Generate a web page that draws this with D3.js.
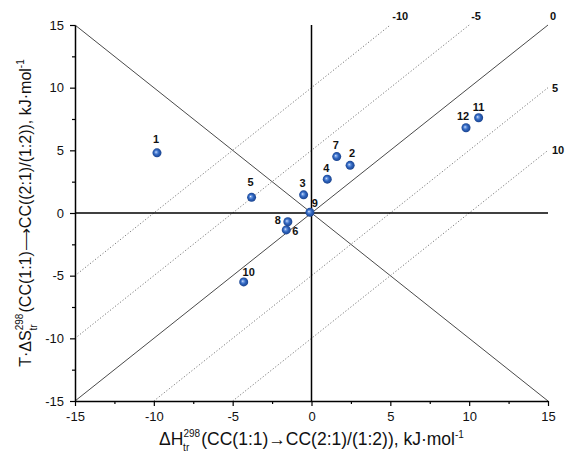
<!DOCTYPE html>
<html>
<head>
<meta charset="utf-8">
<script src="https://cdn.jsdelivr.net/npm/d3@7/dist/d3.min.js"></script>
<style>
  html, body { margin: 0; padding: 0; background: #fff; }
  svg { display: block; font-family: "Liberation Sans", Arial, sans-serif; }
</style>
</head>
<body>
<svg id="chart" width="566" height="462"></svg>
<script>
// Compound numbers and their transition enthalpy / entropy terms (kJ/mol)
const compounds = ["1", "2", "3", "4", "5", "6", "7", "8", "9", "10", "11", "12"];
const deltaH    = [-9.8, 2.45, -0.5, 1.0, -3.8, -1.6, 1.6, -1.5, -0.1, -4.3, 10.6, 9.8];
const tDeltaS   = [4.8, 3.8, 1.45, 2.7, 1.25, -1.35, 4.5, -0.7, 0.05, -5.5, 7.6, 6.8];

// Iso-ΔG reference lines: TΔS = ΔH − ΔG
const isoG = [-10, -5, 0, 5, 10];

// Axis ticks
const majorTicks = [-15, -10, -5, 0, 5, 10, 15];
const minorTicks = [-12.5, -7.5, -2.5, 2.5, 7.5, 12.5];

// Label placement relative to each marker (layout only)
const labelOffset = [[-1, -10], [2, -8], [-1, -8], [-1, -7], [-1, -11], [9, 5],
                     [-1, -8], [-10, 2], [5, -5], [5, -6], [0, -7], [-3, -8]];

const svg = d3.select("#chart");
const x = d3.scaleLinear().domain([-15, 15]).range([75, 548]);
const y = d3.scaleLinear().domain([-15, 15]).range([401, 25]);

// Sphere-like marker shading
const defs = svg.append("defs");
const grad = defs.append("radialGradient").attr("id", "ball")
  .attr("cx", "50%").attr("cy", "50%").attr("r", "55%")
  .attr("fx", "38%").attr("fy", "40%");
grad.append("stop").attr("offset", "0%").attr("stop-color", "#f2f6ff");
grad.append("stop").attr("offset", "18%").attr("stop-color", "#7aa3e6");
grad.append("stop").attr("offset", "50%").attr("stop-color", "#2f65bf");
grad.append("stop").attr("offset", "100%").attr("stop-color", "#173d85");

// Diagonal y = -x
svg.append("line")
  .attr("x1", x(-15)).attr("y1", y(15)).attr("x2", x(15)).attr("y2", y(-15))
  .attr("stroke", "#4a4a4a").attr("stroke-width", 1);

// Iso-ΔG lines
isoG.forEach(g => {
  const x0 = g < 0 ? -15 : -15 + g, y0 = x0 - g;
  const x1 = g < 0 ? 15 + g : 15, y1 = x1 - g;
  svg.append("line")
    .attr("x1", x(x0)).attr("y1", y(y0)).attr("x2", x(x1)).attr("y2", y(y1))
    .attr("stroke", g === 0 ? "#4a4a4a" : "#7a7a7a")
    .attr("stroke-width", 1)
    .attr("stroke-dasharray", g === 0 ? null : "1.2,2");
  const atTop = y1 >= 15;
  svg.append("text")
    .attr("x", x(x1) + (atTop ? 2 : 4))
    .attr("y", y(y1) + (atTop ? -5 : 4))
    .attr("font-size", 11).attr("font-weight", "bold").attr("fill", "#111")
    .text(g);
});

// Zero axes
svg.append("line").attr("x1", x(-15)).attr("x2", x(15)).attr("y1", y(0)).attr("y2", y(0))
  .attr("stroke", "#000").attr("stroke-width", 1.5);
svg.append("line").attr("x1", x(0)).attr("x2", x(0)).attr("y1", y(-15)).attr("y2", y(15))
  .attr("stroke", "#000").attr("stroke-width", 1.5);

// Axes with major and minor ticks
function styleAxis(g) {
  g.select(".domain").attr("stroke", "#000").attr("stroke-width", 1.5);
  g.selectAll(".tick line").attr("stroke", "#000").attr("stroke-width", 1.2);
  g.selectAll(".tick text").attr("font-size", 13).attr("fill", "#111")
    .attr("font-family", "Liberation Sans, Arial, sans-serif");
}
const fmt = d => d3.format("d")(d).replace("−", "-");

svg.append("g").attr("transform", `translate(0,${y(-15)})`)
  .call(d3.axisBottom(x).tickValues(minorTicks).tickSize(3).tickFormat(""))
  .call(g => { g.select(".domain").remove(); g.selectAll("line").attr("stroke", "#000").attr("stroke-width", 1.2); });
svg.append("g").attr("transform", `translate(0,${y(-15)})`)
  .call(d3.axisBottom(x).tickValues(majorTicks).tickSize(5).tickPadding(6).tickSizeOuter(0).tickFormat(fmt))
  .call(styleAxis);

svg.append("g").attr("transform", `translate(${x(-15)},0)`)
  .call(d3.axisLeft(y).tickValues(minorTicks).tickSize(3).tickFormat(""))
  .call(g => { g.select(".domain").remove(); g.selectAll("line").attr("stroke", "#000").attr("stroke-width", 1.2); });
svg.append("g").attr("transform", `translate(${x(-15)},0)`)
  .call(d3.axisLeft(y).tickValues(majorTicks).tickSize(5).tickPadding(6).tickSizeOuter(0).tickFormat(fmt))
  .call(styleAxis);

// Data markers and their labels
const pts = compounds.map((c, i) => ({ c, h: deltaH[i], s: tDeltaS[i], o: labelOffset[i] }));
svg.append("g").selectAll("circle").data(pts).join("circle")
  .attr("cx", d => x(d.h)).attr("cy", d => y(d.s)).attr("r", 4.5)
  .attr("fill", "url(#ball)");
svg.append("g").selectAll("text").data(pts).join("text")
  .attr("x", d => x(d.h) + d.o[0]).attr("y", d => y(d.s) + d.o[1])
  .attr("text-anchor", "middle").attr("font-size", 11).attr("font-weight", "bold")
  .attr("fill", "#111").text(d => d.c);

// Axis titles: main text with a 298 superscript and a "tr" subscript stacked under it
function title(sel, head, tail) {
  sel.append("tspan").text(head);
  sel.append("tspan").attr("font-size", 10).attr("dy", -8).text("298");
  sel.append("tspan").attr("font-size", 10).attr("dx", -17).attr("dy", 14).text("tr");
  sel.append("tspan").attr("dx", 12).attr("dy", -6).text(tail);
  sel.append("tspan").attr("font-size", 10).attr("dy", -7).text("-1");
}
const xt = svg.append("text").attr("x", x(0)).attr("y", 445)
  .attr("text-anchor", "middle").attr("font-size", 17.5).attr("fill", "#111");
title(xt, "ΔH", "(CC(1:1)→CC(2:1)/(1:2)), kJ·mol");

const yt = svg.append("text")
  .attr("transform", `translate(31,${y(0)}) rotate(-90)`)
  .attr("text-anchor", "middle").attr("font-size", 16).attr("fill", "#111");
title(yt, "T·ΔS", "(CC(1:1)⟶CC((2:1)/(1:2)), kJ·mol");
</script>
</body>
</html>
